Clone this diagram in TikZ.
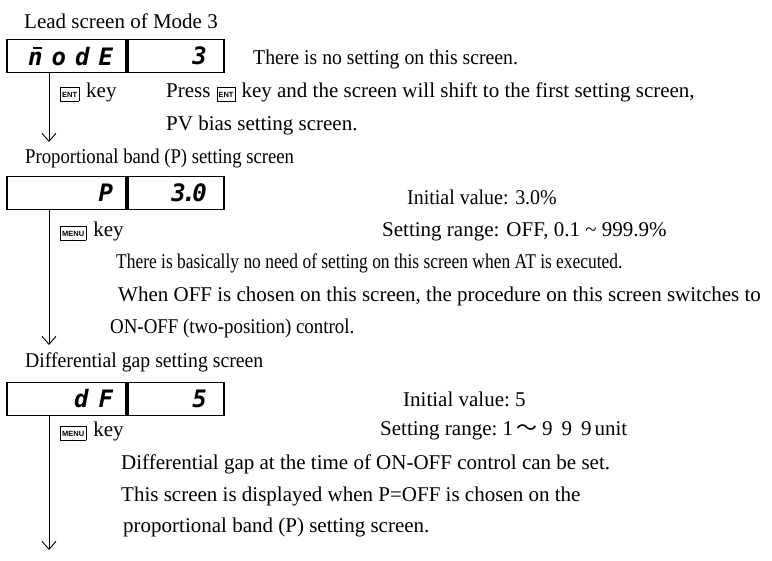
\documentclass[tikz,border=0pt]{standalone}
\usepackage{fontspec}
\setmainfont{Liberation Serif}
\newfontfamily\segfont{DejaVu Sans Mono}
\newfontfamily\keyfont{Liberation Sans}
\newfontfamily\cjk{Noto Sans CJK JP}
\usetikzlibrary{positioning,arrows.meta}

\newcommand{\keycap}[1]{{\setlength\fboxsep{1.3pt}\setlength\fboxrule{0.7pt}\fbox{\keyfont\bfseries\fontsize{7.5}{7.5}\selectfont\raisebox{0pt}[8.5pt][2.5pt]{#1}}}}
\newcommand{\segm}{\rlap{\kern5pt\rule[16pt]{9pt}{2.4pt}}n}

\begin{document}
\begin{tikzpicture}[
    x=1pt, y=-1pt,
    >={Straight Barb[length=8pt,width=14pt]},
    txt/.style={anchor=west, inner sep=0pt, font=\fontsize{21}{23}\selectfont},
    lcdl/.style={draw, line width=1.8pt, minimum height=33pt, text width=93pt, inner xsep=13pt, inner ysep=0pt, align=right,
      font=\segfont\bfseries\itshape\fontsize{24}{24}\selectfont},
    lcdr/.style={lcdl, text width=62pt, inner xsep=17pt}
  ]
    \useasboundingbox (0,0) rectangle (772,561);
    % Lead screen of Mode 3
    \node[txt] (ttlmode) at (24,21) {Lead screen of Mode 3};
    \node[lcdl] (model) at (66.5,56) {\segm\kern9pt o\kern9pt d\kern9pt E};
    \node[lcdr, right=0pt of model] (moder) {3};
    \node[txt] (noset) at (253,59) {\scalebox{0.94}[1]{There is no setting on this screen.}};
    \node[txt] (entkey) at (60,92) {\keycap{ENT}\hspace{7pt}key};
    \node[txt] (press) at (166,92) {Press\hspace{6pt}\keycap{ENT}\hspace{6pt}key and the screen will shift to the first setting screen,};
    \node[txt] (pvbias) at (166,125) {PV bias setting screen.};
    \coordinate (tip1) at (49,142);
    % Proportional band (P) setting screen
    \node[txt] (ttlp) at (25,158) {\scalebox{0.89}[1]{Proportional band (P) setting screen}};
    \node[lcdl] (pl) at (66.5,193) {P};
    \node[lcdr, right=0pt of pl] (pr) {3\kern-4pt.\kern-4pt0};
    \node[txt] (pinit) at (407,197) {\scalebox{0.95}[1]{Initial value: 3.0\%}};
    \node[txt] (menukey1) at (60,231) {\keycap{MENU}\hspace{7pt}key};
    \node[txt] (prange) at (382,232) {Setting range: OFF, 0.1 \textasciitilde\ 999.9\%};
    \node[txt] (pnote1) at (116,263) {\scalebox{0.83}[1]{There is basically no need of setting on this screen when AT is executed.}};
    \node[txt] (pnote2) at (118,296) {When OFF is chosen on this screen, the procedure on this screen switches to};
    \node[txt] (pnote3) at (110,328) {\scalebox{0.9}[1]{ON-OFF (two-position) control.}};
    \coordinate (tip2) at (49,345);
    % Differential gap setting screen
    \node[txt] (ttldf) at (25,362) {\scalebox{0.94}[1]{Differential gap setting screen}};
    \node[lcdl] (dfl) at (66.5,399) {d\kern10pt F};
    \node[lcdr, right=0pt of dfl] (dfr) {5};
    \node[txt] (dfinit) at (403,399) {Initial value:\ 5};
    \node[txt] (menukey2) at (60,431) {\keycap{MENU}\hspace{7pt}key};
    \node[txt] (dfrange) at (380,431) {Setting range:\ 1\hspace{3pt}{\cjk ～}\hspace{5pt}9\hspace{9pt}9\hspace{9pt}9\hspace{3pt}unit};
    \node[txt] (dfnote1) at (121,464) {Differential gap at the time of ON-OFF control can be set.};
    \node[txt] (dfnote2) at (121,496) {This screen is displayed when P=OFF is chosen on the};
    \node[txt] (dfnote3) at (123,527) {proportional band (P) setting screen.};
    \coordinate (tip3) at (49,550);
    % Arrows
    \draw[->, line width=0.9pt] (model.south -| tip1) -- (tip1);
    \draw[->, line width=0.9pt] (pl.south -| tip2) -- (tip2);
    \draw[->, line width=0.9pt] (dfl.south -| tip3) -- (tip3);
  \end{tikzpicture}
\end{document}
